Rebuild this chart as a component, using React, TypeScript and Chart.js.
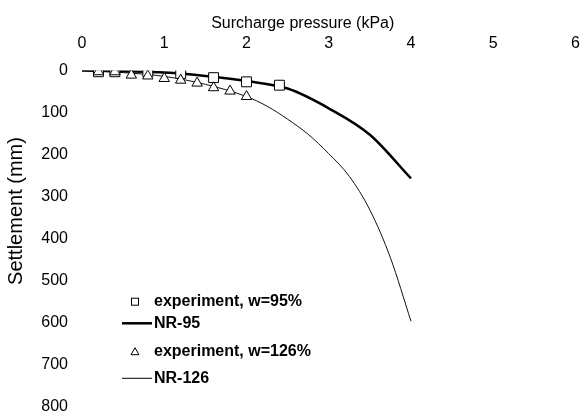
import React, { useEffect, useRef } from 'react';
import { Chart, registerables } from 'chart.js';

Chart.register(...registerables);

const FONT = '"Liberation Sans", Arial, Helvetica, sans-serif';

// ---- data ----
const xTitle = 'Surcharge pressure (kPa)';
const yTitle = 'Settlement (mm)';
const xMin = 0;
const xMax = 6;
const xStep = 1;
const yMin = 0;
const yMax = 800;
const yStep = 100;

const seriesLabels = ['experiment, w=95%', 'NR-95', 'experiment, w=126%', 'NR-126'];

const exp95X = [0.2, 0.4, 0.8, 1.2, 1.6, 2.0, 2.4];
const exp95Y = [3, 3, 3, 7, 17, 27, 35];

const nr95X = [0, 0.5, 1, 1.5, 2, 2.5, 3, 3.5, 4];
const nr95Y = [0, 2, 5, 13, 25, 43, 90, 153, 257];

const exp126X = [0.2, 0.4, 0.6, 0.8, 1.0, 1.2, 1.4, 1.6, 1.8, 2.0];
const exp126Y = [3, 3, 11, 13, 19, 23, 30, 41, 49, 62];

const nr126X = [0, 0.5, 1, 1.5, 2, 2.25, 2.5, 2.75, 3, 3.25, 3.5, 3.75, 4];
const nr126Y = [0, 5, 14, 33, 62, 85, 116, 152, 198, 252, 332, 446, 597];

const toPts = (xs: number[], ys: number[]) => xs.map((x, i) => ({ x, y: ys[i] }));

// shift an axis title off the axis centre (the original centres titles on the page)
const shiftTitle = (s: any, dx: number, dy: number) => {
  if (s.__shifted) return;
  s.__shifted = true;
  const orig = s.drawTitle;
  s.drawTitle = function (...args: any[]) {
    const ctx = this.ctx as CanvasRenderingContext2D;
    ctx.save();
    ctx.translate(dx, dy);
    orig.apply(this, args);
    ctx.restore();
  };
};

// ---- custom legend drawn inside the plot area ----
const insideLegend = {
  id: 'insideLegend',
  afterDraw(chart: any) {
    const ctx = chart.ctx as CanvasRenderingContext2D;
    const { left, top } = chart.chartArea;
    const mx = left + 53; // marker centre
    const lx0 = left + 40;
    const lx1 = left + 70;
    const tx = left + 72;
    const rows = [231.2, 252.8, 281.2, 307.8];
    const ds = chart.data.datasets;
    ctx.save();
    ctx.font = `bold 16px ${FONT}`;
    ctx.textBaseline = 'middle';
    ctx.textAlign = 'left';
    ds.forEach((d: any, i: number) => {
      const y = top + rows[i];
      ctx.strokeStyle = '#000';
      ctx.fillStyle = '#fff';
      if (d.showLine) {
        ctx.lineWidth = d.borderWidth;
        ctx.beginPath();
        ctx.moveTo(lx0, y);
        ctx.lineTo(lx1, y);
        ctx.stroke();
      } else if (d.pointStyle === 'rect') {
        ctx.lineWidth = 1;
        ctx.fillRect(mx - 3.5, y - 3.5, 7, 7);
        ctx.strokeRect(mx - 3.5, y - 3.5, 7, 7);
      } else {
        ctx.lineWidth = 1;
        ctx.beginPath();
        ctx.moveTo(mx, y - 4);
        ctx.lineTo(mx + 4, y + 3);
        ctx.lineTo(mx - 4, y + 3);
        ctx.closePath();
        ctx.fill();
        ctx.stroke();
      }
      ctx.fillStyle = '#000';
      ctx.fillText(d.label, tx, y);
    });
    ctx.restore();
  },
};

export default function App() {
  const ref = useRef<HTMLCanvasElement | null>(null);

  useEffect(() => {
    if (!ref.current) return;
    const tickFont = { family: FONT, size: 16 };
    const chart = new Chart(ref.current, {
      type: 'scatter',
      data: {
        datasets: [
          {
            label: seriesLabels[0],
            data: toPts(exp95X, exp95Y),
            pointStyle: 'rect',
            pointRadius: 7,
            pointBackgroundColor: '#fff',
            pointBorderColor: '#000',
            pointBorderWidth: 1,
            showLine: false,
            order: 1,
          },
          {
            label: seriesLabels[1],
            data: toPts(nr95X, nr95Y),
            showLine: true,
            borderColor: '#000',
            borderWidth: 2.5,
            pointRadius: 0,
            cubicInterpolationMode: 'monotone',
            order: 2,
          },
          {
            label: seriesLabels[2],
            data: toPts(exp126X, exp126Y),
            pointStyle: 'triangle',
            pointRadius: 6,
            pointBackgroundColor: '#fff',
            pointBorderColor: '#000',
            pointBorderWidth: 1,
            showLine: false,
            order: 0,
          },
          {
            label: seriesLabels[3],
            data: toPts(nr126X, nr126Y),
            showLine: true,
            borderColor: '#111',
            borderWidth: 1,
            pointRadius: 0,
            cubicInterpolationMode: 'monotone',
            order: 3,
          },
        ],
      } as any,
      options: {
        animation: false,
        responsive: true,
        maintainAspectRatio: false,
        layout: { padding: { left: 0, right: 11.5, top: 0, bottom: 10.5 } },
        plugins: {
          legend: { display: false },
          tooltip: { enabled: false },
        },
        scales: {
          x: {
            type: 'linear',
            position: 'top',
            min: xMin,
            max: xMax,
            ticks: { stepSize: xStep, padding: 17, color: '#000', font: tickFont },
            grid: { display: false, drawTicks: false },
            border: { display: false },
            title: {
              display: true,
              text: xTitle,
              color: '#000',
              font: { family: FONT, size: 16 },
              padding: { top: 14, bottom: 0 },
            },
            afterFit(s: any) {
              s.height = 70.5;
              s.paddingLeft = 0;
              s.paddingRight = 0;
              shiftTitle(s, -26, 0);
            },
          },
          y: {
            type: 'linear',
            reverse: true,
            min: yMin,
            max: yMax,
            ticks: { stepSize: yStep, padding: 14, color: '#000', font: tickFont },
            grid: { display: false, drawTicks: false },
            border: { display: false },
            title: {
              display: true,
              text: yTitle,
              color: '#000',
              font: { family: FONT, size: 20 },
              padding: { top: 4, bottom: 0 },
            },
            afterFit(s: any) {
              s.width = 82;
              s.paddingTop = 0;
              s.paddingBottom = 0;
              shiftTitle(s, 0, -27.5);
            },
          },
        },
      } as any,
      plugins: [insideLegend],
    });
    return () => chart.destroy();
  }, []);

  return (
    <div style={{ position: 'fixed', left: 0, top: 0, width: 587, height: 417, background: '#fff' }}>
      <canvas ref={ref} />
    </div>
  );
}
